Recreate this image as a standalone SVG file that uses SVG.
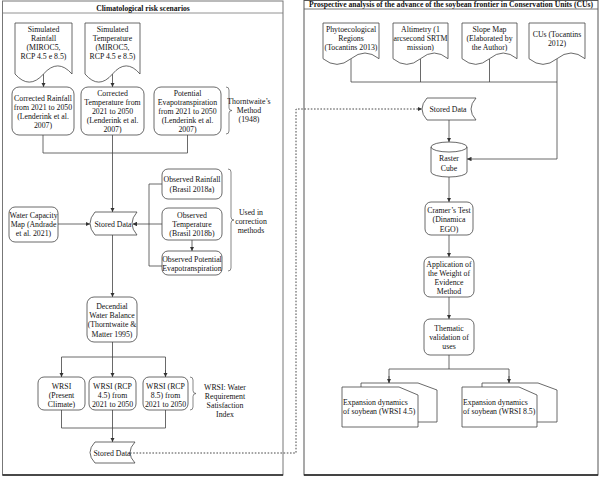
<svg xmlns="http://www.w3.org/2000/svg" width="600" height="477" viewBox="0 0 600 477">
<style>
text{font-family:"Liberation Serif","Times New Roman",serif;font-size:7.8px;fill:#111;text-anchor:middle}
.t{font-weight:bold;font-size:7.6px}
.l{text-anchor:start}
.n{fill:#fff;stroke:#444;stroke-width:0.8}
.c{fill:none;stroke:#444;stroke-width:0.8}
.a{marker-end:url(#ah)}
.d{fill:none;stroke:#333;stroke-width:0.9;stroke-dasharray:1.6 1.6}
.b{fill:none;stroke:#555;stroke-width:0.7}
</style>
<defs>
<marker id="ah" viewBox="0 0 8 8" refX="8" refY="4" markerWidth="4.5" markerHeight="4.5" markerUnits="userSpaceOnUse" orient="auto">
<path d="M0,0 L8,4 L0,8 z" fill="#333"/>
</marker>
</defs>
<rect width="600" height="477" fill="#fff"/>

<!-- Panels -->
<g id="panel-left">
<rect x="2.5" y="1" width="280.5" height="474" fill="none" stroke="#777" stroke-width="1"/>
<line x1="2.5" y1="475" x2="283" y2="475" stroke="#222" stroke-width="1.6"/>
<line x1="2.5" y1="13" x2="283" y2="13" stroke="#777" stroke-width="0.8"/>
<text class="t" x="143" y="10.5">Climatological risk scenarios</text>
</g>
<g id="panel-right">
<rect x="304" y="0.5" width="294" height="474.5" fill="none" stroke="#555" stroke-width="1"/>
<line x1="304" y1="475" x2="598" y2="475" stroke="#222" stroke-width="1.6"/>
<line x1="304" y1="9" x2="598" y2="9" stroke="#555" stroke-width="0.8"/>
<text class="t" x="451" y="7" textLength="284" lengthAdjust="spacingAndGlyphs">Prospective analysis of the advance of the soybean frontier in Conservation Units (CUs)</text>
</g>

<!-- Connectors -->
<g id="connectors">
<line class="c a" x1="43.5" y1="74" x2="43.5" y2="87"/>
<line class="c a" x1="112.5" y1="74" x2="112.5" y2="87"/>
<path class="c" d="M43,135 V153 H187.5 V135 M112.5,135 V153"/>
<line class="c a" x1="112.5" y1="153" x2="112.5" y2="212"/>
<line class="c a" x1="58" y1="224" x2="90" y2="224"/>
<line class="c a" x1="162" y1="224" x2="132.5" y2="224"/>
<path class="c" d="M162,184 H149 V266 H162"/>
<line class="c a" x1="192" y1="240" x2="192" y2="251"/>
<line class="c a" x1="112.5" y1="235" x2="112.5" y2="297"/>
<line class="c a" x1="112.5" y1="342" x2="112.5" y2="377"/>
<path class="c" d="M61.5,377 V357 H165.5 V377"/>
<line class="c a" x1="61.5" y1="370" x2="61.5" y2="377"/>
<line class="c a" x1="165.5" y1="370" x2="165.5" y2="377"/>
<path class="c" d="M61.5,410 V428 H165.5 V410"/>
<line class="c a" x1="112.5" y1="410" x2="112.5" y2="442"/>
<path class="d a" d="M130,453 H296 V109 H422"/>
<path class="c" d="M351,58.7 V82 H557 M420.5,58.7 V82 M489.5,58.7 V82 M557,58.7 V159 H470"/>
<line class="c a" x1="470" y1="159" x2="467" y2="159"/>
<line class="c a" x1="449" y1="120" x2="449" y2="142"/>
<line class="c a" x1="449" y1="177" x2="449" y2="202"/>
<line class="c a" x1="449" y1="235" x2="449" y2="257"/>
<line class="c a" x1="449" y1="297" x2="449" y2="319"/>
<path class="c" d="M449,355 V369 M389,383 V369 H509 V383"/>
<line class="c a" x1="389" y1="376" x2="389" y2="383"/>
<line class="c a" x1="509" y1="376" x2="509" y2="383"/>
</g>

<!-- Left nodes -->
<g id="sim-rainfall">
<path class="n" d="M15,23 H72 V74 Q57.75,57.8 43.5,74 Q29.25,90.2 15,74 Z"/>
<text x="43.5" y="32">Simulated</text><text x="43.5" y="41">Rainfall</text><text x="43.5" y="50">(MIROC5,</text><text x="43.5" y="59">RCP 4.5 e 8.5)</text>
</g>
<g id="sim-temperature">
<path class="n" d="M85,23 H140 V74 Q126.25,57.8 112.5,74 Q98.75,90.2 85,74 Z"/>
<text x="112.5" y="32">Simulated</text><text x="112.5" y="41">Temperature</text><text x="112.5" y="50">(MIROC5,</text><text x="112.5" y="59">RCP 4.5 e 8.5)</text>
</g>
<g id="corr-rainfall">
<rect class="n" x="12" y="87" width="62" height="48" rx="7"/>
<text x="43" y="101">Corrected Rainfall</text><text x="43" y="110">from 2021 to 2050</text><text x="43" y="119">(Lenderink et al.</text><text x="43" y="128">2007)</text>
</g>
<g id="corr-temperature">
<rect class="n" x="81" y="87" width="63" height="48" rx="7"/>
<text x="112.5" y="96">Corrected</text><text x="112.5" y="105">Temperature from</text><text x="112.5" y="114">2021 to 2050</text><text x="112.5" y="123">(Lenderink et al.</text><text x="112.5" y="132">2007)</text>
</g>
<g id="pet">
<rect class="n" x="154" y="87" width="67" height="48" rx="7"/>
<text x="187.5" y="96">Potential</text><text x="187.5" y="105">Evapotranspiration</text><text x="187.5" y="114">from 2021 to 2050</text><text x="187.5" y="123">(Lenderink et al.</text><text x="187.5" y="132">2007)</text>
</g>
<g id="thornthwaite-note">
<path class="b" d="M226,87 Q229,87 229,90 V108 Q229,110.5 232,110.5 Q229,110.5 229,113 V131 Q229,134 226,134"/>
<text x="249" y="104">Thorntwaite’s</text><text x="249" y="113">Method</text><text x="249" y="122">(1948)</text>
</g>
<g id="water-capacity">
<rect class="n" x="9" y="207" width="49" height="35" rx="6"/>
<text x="33.5" y="218">Water Capacity</text><text x="33.5" y="227">Map (Andrade</text><text x="33.5" y="236">et al. 2021)</text>
</g>
<g id="stored-data-1">
<path class="n" d="M95,212 H137 Q127,223.5 137,235 H95 Q85,223.5 95,212 Z"/>
<text x="113" y="227">Stored Data</text>
</g>
<g id="obs-rainfall">
<rect class="n" x="162" y="169" width="60" height="30" rx="6"/>
<text x="192" y="182">Observed Rainfall</text><text x="192" y="192">(Brasil 2018a)</text>
</g>
<g id="obs-temperature">
<rect class="n" x="162" y="208" width="60" height="32" rx="6"/>
<text x="192" y="218">Observed</text><text x="192" y="227">Temperature</text><text x="192" y="236">(Brasil 2018b)</text>
</g>
<g id="obs-pet">
<rect class="n" x="162" y="251" width="60" height="24" rx="6"/>
<text x="192" y="261.5">Observed Potential</text><text x="192" y="271">Evapotranspiration</text>
</g>
<g id="correction-note">
<path class="b" d="M228,169 Q231,169 231,172 V217 Q231,220 234,220 Q231,220 231,223 V268 Q231,271 228,271"/>
<text x="251" y="215">Used in</text><text x="251" y="224">correction</text><text x="251" y="233">methods</text>
</g>
<g id="water-balance">
<rect class="n" x="87" y="297" width="50" height="45" rx="7"/>
<text x="112" y="309">Decendial</text><text x="112" y="318">Water Balance</text><text x="112" y="327">(Thorntwaite &amp;</text><text x="112" y="336.5">Matter 1995)</text>
</g>
<g id="wrsi-present">
<rect class="n" x="38" y="377" width="47" height="33" rx="6"/>
<text x="61.5" y="389">WRSI</text><text x="61.5" y="398">(Present</text><text x="61.5" y="407">Climate)</text>
</g>
<g id="wrsi-45">
<rect class="n" x="89" y="377" width="47" height="33" rx="6"/>
<text x="112.5" y="389">WRSI (RCP</text><text x="112.5" y="398">4.5) from</text><text x="112.5" y="407">2021 to 2050</text>
</g>
<g id="wrsi-85">
<rect class="n" x="143" y="377" width="45" height="33" rx="6"/>
<text x="165.5" y="389">WRSI (RCP</text><text x="165.5" y="398">8.5) from</text><text x="165.5" y="407">2021 to 2050</text>
</g>
<g id="wrsi-note">
<path class="b" d="M190,377 Q193,377 193,380 V390.5 Q193,393.5 196,393.5 Q193,393.5 193,396.5 V407 Q193,410 190,410"/>
<text x="225" y="390">WRSI: Water</text><text x="225" y="399">Requirement</text><text x="225" y="408">Satisfaction</text><text x="225" y="417">Index</text>
</g>
<g id="stored-data-2">
<path class="n" d="M95,442 H135 Q125,452.5 135,463 H95 Q85,452.5 95,442 Z"/>
<text x="112" y="455.5">Stored Data</text>
</g>

<!-- Right nodes -->
<g id="phyto">
<path class="n" d="M323,23 H379 V58.7 Q365,47.36 351,58.7 Q337,70.04 323,58.7 Z"/>
<text x="351" y="32">Phytoecological</text><text x="351" y="41">Regions</text><text x="351" y="50">(Tocantins 2013)</text>
</g>
<g id="altimetry">
<path class="n" d="M393,23 H448 V58.7 Q434.25,47.36 420.5,58.7 Q406.75,70.04 393,58.7 Z"/>
<text x="420.5" y="32">Altimetry (1</text><text x="420.5" y="41">arcsecond SRTM</text><text x="420.5" y="50">mission)</text>
</g>
<g id="slope">
<path class="n" d="M462,23 H517 V58.7 Q503.25,47.36 489.5,58.7 Q475.75,70.04 462,58.7 Z"/>
<text x="489.5" y="32">Slope Map</text><text x="489.5" y="41">(Elaborated by</text><text x="489.5" y="50">the Author)</text>
</g>
<g id="cus">
<path class="n" d="M529,23 H585 V58.7 Q571,47.36 557,58.7 Q543,70.04 529,58.7 Z"/>
<text x="557" y="37">CUs (Tocantins</text><text x="557" y="46">2012)</text>
</g>
<g id="stored-data-3">
<path class="n" d="M427,98 H476 Q466,109 476,120 H427 Q417,109 427,98 Z"/>
<text x="448" y="112">Stored Data</text>
</g>
<g id="raster-cube">
<path class="n" d="M431,147 A18,5 0 0 1 467,147 V172 A18,5 0 0 1 431,172 Z"/>
<path class="c" d="M431,147 A18,5 0 0 0 467,147"/>
<text x="449" y="161">Raster</text><text x="449" y="171">Cube</text>
</g>
<g id="cramer">
<rect class="n" x="425" y="202" width="48" height="33" rx="6"/>
<text x="449" y="213">Cramer’s Test</text><text x="449" y="222">(Dinamica</text><text x="449" y="231.5">EGO)</text>
</g>
<g id="woe">
<rect class="n" x="424" y="257" width="50" height="40" rx="6"/>
<text x="449" y="266.5">Application of</text><text x="449" y="275.5">the Weight of</text><text x="449" y="285">Evidence</text><text x="449" y="294">Method</text>
</g>
<g id="thematic">
<rect class="n" x="424" y="319" width="50" height="36" rx="6"/>
<text x="449" y="331">Thematic</text><text x="449" y="340">validation of</text><text x="449" y="349">uses</text>
</g>
<g id="expansion-45">
<path class="n" d="M361,383 H418 L437,390 V422 H361 Z"/>
<path class="n" d="M342,387 H399 L418,395 V427 H342 Z"/>
<text class="l" x="343" y="404.5">Expansion dynamics</text><text class="l" x="343" y="414">of soybean (WRSI 4.5)</text>
</g>
<g id="expansion-85">
<path class="n" d="M482,383 H538 L557,390 V422 H482 Z"/>
<path class="n" d="M462,387 H519 L537,395 V427 H462 Z"/>
<text class="l" x="463" y="404.5">Expansion dynamics</text><text class="l" x="463" y="414">of soybean (WRSI 8.5)</text>
</g>
</svg>
